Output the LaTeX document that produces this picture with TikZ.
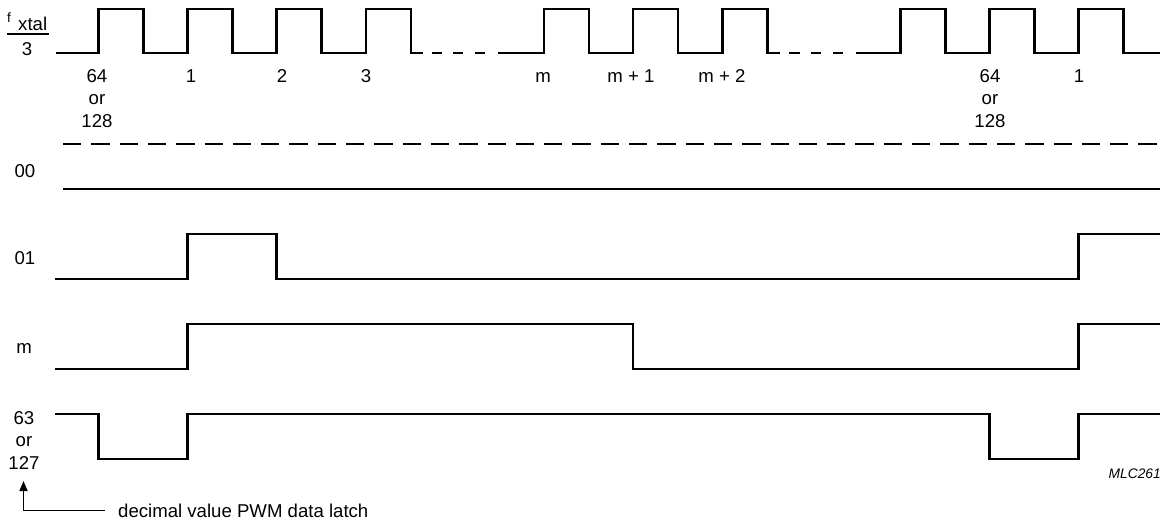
\documentclass[tikz,border=0pt]{standalone}
\usepackage{fontspec}
\setmainfont{Liberation Sans}
\usetikzlibrary{arrows.meta}
\begin{document}
\begin{tikzpicture}[x=1pt,y=-1pt,
  wave/.style={line width=2.6pt, line join=miter, line cap=butt},
  lbl/.style={inner sep=0pt, anchor=base, font=\fontsize{18.6}{22}\selectfont},
  small/.style={inner sep=0pt, font=\fontsize{13.5}{15}\selectfont},
  tag/.style={inner sep=0pt, font=\fontsize{13.8}{16}\selectfont\itshape},
]
\useasboundingbox (0,0) rectangle (1164,522);

% ---- clock f_xtal/3 ----
\node (f) [small, anchor=base west] at (7,22.5) {f};
\node (xtal) [lbl, anchor=base west] at (18,30) {xtal};
\coordinate (barL) at (7,34);
\coordinate (barR) at (49,34);
\draw[line width=1.4pt] (barL) -- (barR);
\node (three) [lbl] at (27,55) {3};

\draw[wave] (56,53) -- (98.5,53) -- (98.5,9) -- (143.5,9) -- (143.5,53)
  -- (187.6,53) -- (187.6,9) -- (232.6,9) -- (232.6,53)
  -- (276.7,53) -- (276.7,9) -- (321.7,9) -- (321.7,53)
  -- (365.8,53) -- (365.8,9) -- (410.8,9) -- (410.8,53) -- (423,53);
\draw[wave] (432,53) -- (442,53);
\draw[wave] (453,53) -- (463,53);
\draw[wave] (475,53) -- (485,53);
\draw[wave] (498,53) -- (544,53) -- (544,9) -- (589,9) -- (589,53)
  -- (633.1,53) -- (633.1,9) -- (678.1,9) -- (678.1,53)
  -- (722.2,53) -- (722.2,9) -- (767.2,9) -- (767.2,53) -- (780,53);
\draw[wave] (789,53) -- (800,53);
\draw[wave] (811,53) -- (821,53);
\draw[wave] (833,53) -- (843,53);
\draw[wave] (856,53) -- (900.4,53) -- (900.4,9) -- (945.4,9) -- (945.4,53)
  -- (989.5,53) -- (989.5,9) -- (1034.5,9) -- (1034.5,53)
  -- (1078.6,53) -- (1078.6,9) -- (1123.6,9) -- (1123.6,53) -- (1160,53);

% clock labels
\node (c64a) [lbl] at (97,82) {64};
\node (c64b) [lbl] at (97,104.5) {or};
\node (c64c) [lbl] at (97,127) {128};
\node (c1) [lbl] at (191,82) {1};
\node (c2) [lbl] at (282,82) {2};
\node (c3) [lbl] at (366,82) {3};
\node (cm) [lbl] at (543,82) {m};
\node (cm1) [lbl] at (631,82) {m + 1};
\node (cm2) [lbl] at (722,82) {m + 2};
\node (d64a) [lbl] at (990,82) {64};
\node (d64b) [lbl] at (990,104.5) {or};
\node (d64c) [lbl] at (990,127) {128};
\node (d1) [lbl] at (1079,82) {1};

% ---- dashed separator ----
\draw[line width=2.6pt, dash pattern=on 18.3pt off 10pt] (63,144) -- (1160,144);

% ---- row 00 ----
\node (l00) [lbl] at (25,177) {00};
\draw[wave] (63,189) -- (1160,189);

% ---- row 01 ----
\node (l01) [lbl] at (25,264) {01};
\draw[wave] (55,279) -- (187.6,279) -- (187.6,234) -- (276.7,234) -- (276.7,279)
  -- (1078.6,279) -- (1078.6,234) -- (1160,234);

% ---- row m ----
\node (lm) [lbl] at (24,353) {m};
\draw[wave] (55,369) -- (187.6,369) -- (187.6,324) -- (633.1,324) -- (633.1,369)
  -- (1078.6,369) -- (1078.6,324) -- (1160,324);

% ---- row 63 or 127 ----
\node (l63a) [lbl] at (24,424) {63};
\node (l63b) [lbl] at (24,446.5) {or};
\node (l63c) [lbl] at (24,469) {127};
\draw[wave] (55,414) -- (98.5,414) -- (98.5,459) -- (187.6,459) -- (187.6,414)
  -- (989.5,414) -- (989.5,459) -- (1078.6,459) -- (1078.6,414) -- (1160,414);

% ---- note ----
\node (note) [lbl, anchor=base west] at (118,517) {decimal value PWM data latch};
\coordinate (tip) at (23.5,481);
\draw[line width=1.5pt, -{Triangle[length=10pt,width=8pt]}]
  ([xshift=-13pt]note.west) -| (tip);

\node (mlc) [tag, anchor=base east] at (1161,478) {MLC261};
\end{tikzpicture}
\end{document}
